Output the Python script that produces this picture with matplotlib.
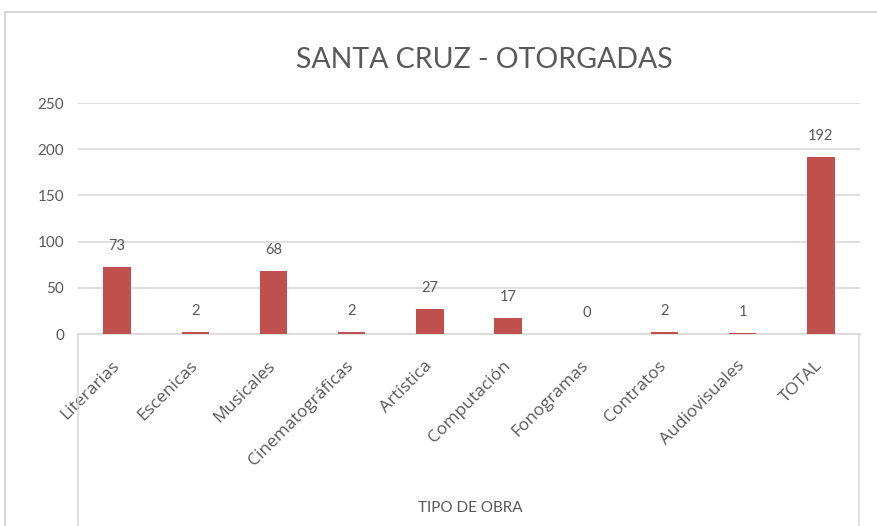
import matplotlib.pyplot as plt
from matplotlib.lines import Line2D
from matplotlib.transforms import ScaledTranslation
import numpy as np

plt.rcParams['font.family'] = ['Lato', 'DejaVu Sans']

categorias = ['Literarias', 'Escenicas', 'Musicales', 'Cinematográficas', 'Artística',
              'Computación', 'Fonogramas', 'Contratos', 'Audiovisuales', 'TOTAL']
valores = [73, 2, 68, 2, 27, 17, 0, 2, 1, 192]
yticks = [0, 50, 100, 150, 200, 250]

gris = '#595959'
rojo = '#C0504D'

fig = plt.figure(figsize=(8.77, 5.26), dpi=100)
W, H = 877, 526
ax = fig.add_axes([78 / W, 1 - 334 / H, (860 - 78) / W, (334 - 103) / H])

x = np.arange(len(categorias))
ax.bar(x, valores, width=0.35, color=rojo, zorder=3)
for xi, v in zip(x, valores):
    ax.text(xi, v + 15, str(v), ha='center', va='bottom', fontsize=10.5, color=gris)

ax.set_xlim(-0.5, len(categorias) - 0.5)
ax.set_ylim(0, 250)
ax.set_yticks(yticks)
ax.set_yticklabels([str(t) for t in yticks], fontsize=11, color=gris)
ax.yaxis.grid(True, color='#D9D9D9', linewidth=1.2, zorder=0)
ax.tick_params(axis='y', length=0, pad=10)
ax.tick_params(axis='x', length=0, pad=2)
ax.set_xticks(x)
ax.set_xticklabels(categorias, rotation=45, ha='right', rotation_mode='anchor',
                   fontsize=12.5, color=gris, family='Open Sans')
desplazar = ScaledTranslation(-6 / 100, -21 / 100, fig.dpi_scale_trans)
for lab in ax.get_xticklabels():
    lab.set_transform(lab.get_transform() + desplazar)
for s in ['top', 'right', 'left']:
    ax.spines[s].set_visible(False)
ax.spines['bottom'].set_color('#D9D9D9')
ax.spines['bottom'].set_linewidth(1.2)

fig.text(484 / W, 1 - 60 / H, 'SANTA CRUZ - OTORGADAS', ha='center', va='center',
         fontsize=20.5, color=gris)
fig.text(470 / W, 1 - 508 / H, 'TIPO DE OBRA', ha='center', va='center',
         fontsize=11, color=gris)

# marco exterior del gráfico y del área inferior
fig.add_artist(Line2D([5 / W, 1], [1 - 12 / H, 1 - 12 / H], color='#D0D0D0', lw=1.2))
fig.add_artist(Line2D([5 / W, 5 / W], [0, 1 - 12 / H], color='#D0D0D0', lw=1.2))
fig.add_artist(Line2D([78 / W, 78 / W], [0, 1 - 334 / H], color='#D9D9D9', lw=1.2))
fig.add_artist(Line2D([859 / W, 859 / W], [0, 1 - 334 / H], color='#D9D9D9', lw=1.2))

fig.savefig('out.png', dpi=100)
